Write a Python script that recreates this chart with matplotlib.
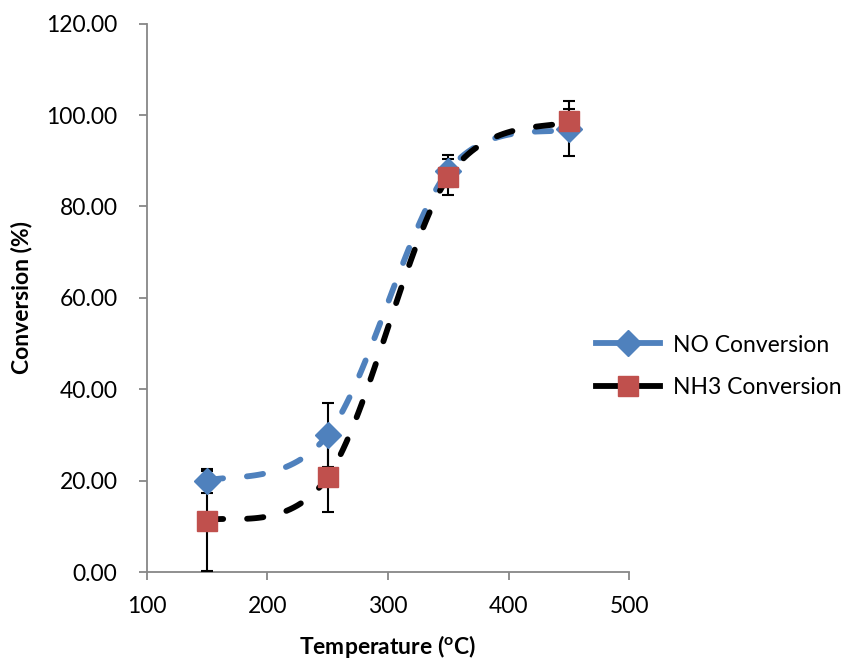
import numpy as np
import matplotlib.pyplot as plt
from matplotlib.lines import Line2D

plt.rcParams['font.family'] = ['Lato', 'DejaVu Sans']

# data
temperature = [150, 250, 350, 450]
no_conv = [19.9, 30.0, 87.8, 97.0]
no_err = [2.7, 7.0, 3.5, 6.0]
nh3_conv = [11.2, 20.8, 86.5, 98.7]
nh3_err = [11.0, 7.7, 4.0, 2.7]

BLUE = '#4F81BD'
RED = '#C0504D'


def smooth(x, y, n=40):
    # excel style smoothed line (bezier through the points)
    p = np.column_stack([x, y]).astype(float)
    pts = np.vstack([p[0], p, p[-1]])
    out = []
    t = np.linspace(0, 1, n)[:, None]
    for i in range(1, len(pts) - 2):
        p0, p1, p2, p3 = pts[i - 1], pts[i], pts[i + 1], pts[i + 2]
        c1 = p1 + (p2 - p0) / 6
        c2 = p2 - (p3 - p1) / 6
        seg = ((1 - t) ** 3) * p1 + 3 * ((1 - t) ** 2) * t * c1 + 3 * (1 - t) * t ** 2 * c2 + t ** 3 * p2
        out.append(seg)
    out = np.vstack(out)
    return out[:, 0], out[:, 1]


fig = plt.figure(figsize=(8.48, 6.59), dpi=100)
ax = fig.add_axes([0.173, 0.132, 0.569, 0.832])

LW = 4.2
dash = (0, (2.8, 4.1))
sx, sy = smooth(temperature, no_conv)
ax.plot(sx, sy, color=BLUE, lw=LW, ls=dash, dash_capstyle='round', zorder=2)
sx, sy = smooth(temperature, nh3_conv)
ax.plot(sx, sy, color='black', lw=LW, ls=dash, dash_capstyle='round', zorder=3)

ax.errorbar(temperature, no_conv, yerr=no_err, fmt='none', ecolor='black',
            elinewidth=1.5, capsize=4.5, capthick=1.5, zorder=4)
ax.errorbar(temperature, nh3_conv, yerr=nh3_err, fmt='none', ecolor='black',
            elinewidth=1.5, capsize=4.5, capthick=1.5, zorder=4)
ax.plot(temperature, no_conv, ls='none', marker='D', ms=13.5, color=BLUE, zorder=5)
ax.plot(temperature, nh3_conv, ls='none', marker='s', ms=15, color=RED, zorder=6)

ax.set_xlim(100, 500)
ax.set_ylim(0, 120)
ax.set_xticks([100, 200, 300, 400, 500])
ax.set_yticks(np.arange(0, 121, 20))
ax.yaxis.set_major_formatter(plt.FormatStrFormatter('%.2f'))

for s in ['top', 'right']:
    ax.spines[s].set_visible(False)
for s in ['left', 'bottom']:
    ax.spines[s].set_color('#878787')
    ax.spines[s].set_linewidth(1.3)
ax.tick_params(direction='out', length=6, width=1.3, color='#878787', labelsize=16.5)
ax.tick_params(axis='y', pad=15)
ax.tick_params(axis='x', pad=11)

ax.set_xlabel('Temperature ($\\mathregular{^o}$C)', fontsize=16.5, fontweight='bold', labelpad=12)
ax.set_ylabel('Conversion (%)', fontsize=16.5, fontweight='bold', labelpad=10)

handles = [
    Line2D([], [], color=BLUE, lw=LW, marker='D', ms=13.5),
    Line2D([], [], color='black', lw=LW, marker='s', ms=15, mfc=RED, mec=RED),
]
fig.legend(handles, ['NO Conversion', 'NH3 Conversion'], loc='center left',
           bbox_to_anchor=(0.678, 0.444), frameon=False, fontsize=16.5,
           handlelength=2.8, labelspacing=0.95, handletextpad=0.6)

plt.savefig('out.png', dpi=100)
